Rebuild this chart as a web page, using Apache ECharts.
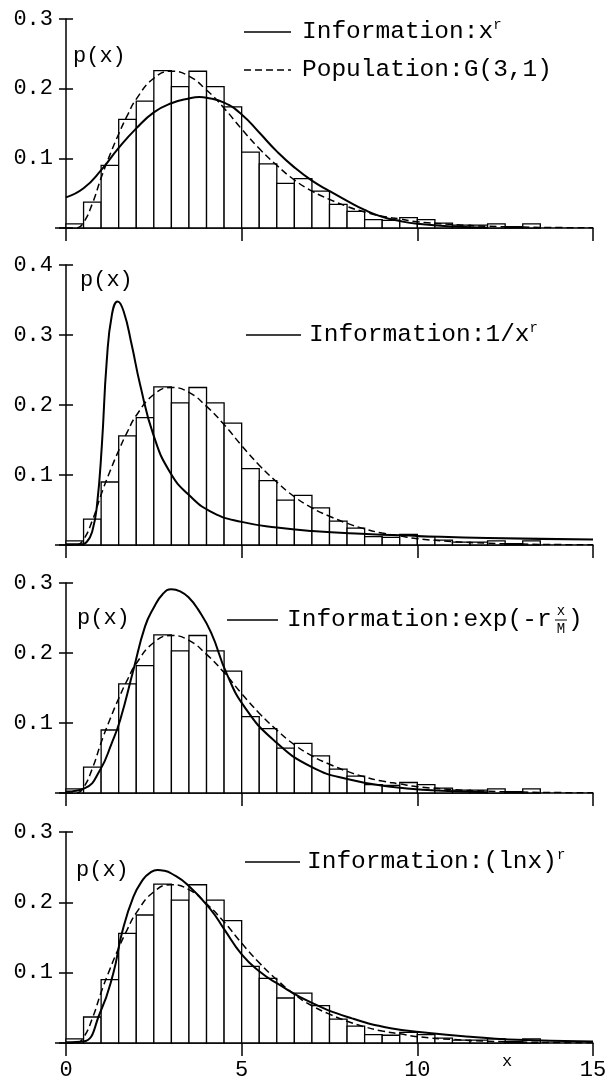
<!DOCTYPE html>
<html>
<head>
<meta charset="utf-8">
<script src="https://cdn.jsdelivr.net/npm/echarts@6/dist/echarts.min.js"></script>
<style>
html, body { margin: 0; padding: 0; background: #fff; }
#chart { width: 606px; height: 1083px; }
</style>
</head>
<body>
<div id="chart"></div>
<script>
// histogram: lower edge of each bin and its relative frequency
var binLeft = [0, 0.5, 1, 1.5, 2, 2.5, 3, 3.5, 4, 4.5, 5, 5.5, 6, 6.5, 7, 7.5,
               8, 8.5, 9, 9.5, 10, 10.5, 11, 11.5, 12, 12.5, 13, 13.5, 14, 14.5];
var binWidth = 0.5;
var histFreq = [0.006, 0.037, 0.090, 0.156, 0.182, 0.226, 0.203, 0.225, 0.203, 0.174,
                0.109, 0.092, 0.064, 0.071, 0.053, 0.034, 0.024, 0.012, 0.011, 0.015,
                0.012, 0.007, 0.004, 0.004, 0.006, 0.002, 0.006, 0, 0, 0];

// population G(3,1), dashed, same in every panel
var popX = [0, 0.3, 0.5, 0.75, 1, 1.25, 1.5, 1.75, 2, 2.5, 3, 3.5, 4, 4.5, 5, 5.5,
            6, 6.5, 7, 7.5, 8, 8.5, 9, 9.5, 10, 11, 12, 13, 14, 15];
var popY = [0, 0, 0.008, 0.035, 0.072, 0.105, 0.135, 0.162, 0.185, 0.215, 0.225, 0.218,
            0.198, 0.172, 0.142, 0.114, 0.090, 0.069, 0.053, 0.041, 0.031, 0.023, 0.017,
            0.013, 0.009, 0.005, 0.0025, 0.0013, 0.0006, 0.0003];

// information x^r
var info1X = [0, 0.5, 1, 1.5, 2, 2.5, 3, 3.5, 3.8, 4, 4.5, 5, 5.5, 6, 6.5, 7, 7.5,
              8, 8.5, 9, 9.5, 10, 11, 12];
var info1Y = [0.044, 0.057, 0.083, 0.115, 0.143, 0.166, 0.179, 0.186, 0.188, 0.187,
              0.180, 0.163, 0.137, 0.110, 0.087, 0.068, 0.053, 0.039, 0.026, 0.016,
              0.010, 0.006, 0.002, 0.0005];

// information 1/x^r
var info2X = [0, 0.4, 0.6, 0.75, 0.88, 1.02, 1.16, 1.31, 1.47, 1.64, 1.87, 2.11, 2.49,
              2.96, 3.53, 4.19, 5, 6, 7, 8.4, 10, 12, 15];
var info2Y = [0.001, 0.001, 0.005, 0.02, 0.056, 0.142, 0.263, 0.33, 0.348, 0.334, 0.286,
              0.229, 0.157, 0.104, 0.070, 0.046, 0.033, 0.025, 0.020, 0.016, 0.013,
              0.010, 0.008];

// information exp(-r x/M)
var info3X = [0, 0.54, 0.97, 1.3, 1.54, 1.92, 2.25, 2.5, 2.75, 3, 3.25, 3.5, 3.75, 4.13,
              4.57, 5.08, 5.9, 7, 8.1, 9.24, 10.4, 12];
var info3Y = [0.002, 0.007, 0.033, 0.071, 0.104, 0.176, 0.238, 0.265, 0.284, 0.291,
              0.288, 0.279, 0.263, 0.229, 0.171, 0.123, 0.076, 0.037, 0.019, 0.009,
              0.004, 0.001];

// information (ln x)^r
var info4X = [0, 0.49, 0.97, 1.35, 1.59, 1.92, 2.2, 2.39, 2.6, 2.79, 3, 3.46, 4.13, 4.5,
              5, 5.5, 6, 7, 8.14, 9.24, 10.4, 11.5, 12.6, 15];
var info4Y = [0.001, 0.002, 0.043, 0.100, 0.156, 0.208, 0.233, 0.242, 0.246, 0.245,
              0.241, 0.225, 0.189, 0.162, 0.126, 0.102, 0.085, 0.057, 0.035, 0.021,
              0.014, 0.009, 0.005, 0.002];

var yMax = [0.3, 0.4, 0.3, 0.3];

var FONT = 'Liberation Mono';
var panels = [
    {top: 19, height: 209},
    {top: 265, height: 280},
    {top: 583, height: 210},
    {top: 832, height: 211}
];

function pairs(xs, ys) {
    var out = [];
    for (var i = 0; i < xs.length; i++) out.push([xs[i], ys[i]]);
    return out;
}
var histData = [];
for (var i = 0; i < binLeft.length; i++) {
    if (histFreq[i] > 0) histData.push([binLeft[i], binLeft[i] + binWidth, histFreq[i]]);
}
function renderBar(params, api) {
    var p0 = api.coord([api.value(0), api.value(2)]);
    var p1 = api.coord([api.value(1), 0]);
    return {
        type: 'rect',
        shape: {x: p0[0], y: p0[1], width: p1[0] - p0[0], height: p1[1] - p0[1]},
        style: {fill: '#fff', stroke: '#000', lineWidth: 1.3}
    };
}

var infos = [pairs(info1X, info1Y), pairs(info2X, info2Y), pairs(info3X, info3Y), pairs(info4X, info4Y)];
var popData = pairs(popX, popY);

var grid = [], xAxis = [], yAxis = [], series = [];
for (var k = 0; k < 4; k++) {
    grid.push({left: 66, width: 527, top: panels[k].top, height: panels[k].height,
               containLabel: false, outerBoundsMode: 'none'});
    xAxis.push({
        gridIndex: k, type: 'value', min: 0, max: 15, interval: 5,
        axisLine: {lineStyle: {color: '#000', width: 1.5}},
        axisTick: {length: 13, lineStyle: {color: '#000', width: 1.5}},
        axisLabel: {show: k === 3, margin: 16, color: '#000', fontFamily: FONT, fontSize: 22},
        splitLine: {show: false}
    });
    // outer ticks + labels
    yAxis.push({
        gridIndex: k, type: 'value', min: 0, max: yMax[k], interval: 0.1,
        axisLine: {show: true, onZero: false, lineStyle: {color: '#000', width: 1.5}},
        axisTick: {length: 7, lineStyle: {color: '#000', width: 1.5}},
        axisLabel: {margin: 13, color: '#000', fontFamily: FONT, fontSize: 22,
                    formatter: function (v) { return v === 0 ? '' : v.toFixed(1); }},
        splitLine: {show: false}
    });
    // inner ticks so they cross the axis
    yAxis.push({
        gridIndex: k, type: 'value', min: 0, max: yMax[k], interval: 0.1, position: 'left',
        axisLine: {show: false},
        axisTick: {inside: true, length: 7, lineStyle: {color: '#000', width: 1.5}},
        axisLabel: {show: false},
        splitLine: {show: false}
    });
    series.push({
        type: 'custom', xAxisIndex: k, yAxisIndex: 2 * k, renderItem: renderBar,
        encode: {x: [0, 1], y: 2}, data: histData, z: 1, silent: true
    });
    series.push({
        type: 'line', xAxisIndex: k, yAxisIndex: 2 * k, data: popData,
        smooth: 0.5, showSymbol: false, z: 3, silent: true,
        lineStyle: {color: '#000', width: 1.5, type: [7, 4]}
    });
    series.push({
        type: 'line', xAxisIndex: k, yAxisIndex: 2 * k, data: infos[k],
        smooth: 0.5, showSymbol: false, z: 4, silent: true,
        lineStyle: {color: '#000', width: 2}
    });
}

var LEG = 24.5;
function legendText(x, y, main, sup) {
    return {
        type: 'text', x: x, y: y, z: 10,
        style: {
            text: '{a|' + main + '}' + (sup ? '{s|' + sup + '}' : ''),
            verticalAlign: 'middle', fill: '#000',
            rich: {
                a: {fontFamily: FONT, fontSize: LEG, lineHeight: 28, fill: '#000'},
                s: {fontFamily: FONT, fontSize: 14, lineHeight: 28, verticalAlign: 'top', fill: '#000'}
            }
        }
    };
}
function legendLine(x1, x2, y, dashed) {
    return {
        type: 'line', z: 10, shape: {x1: x1, y1: y, x2: x2, y2: y},
        style: {stroke: '#000', lineWidth: dashed ? 1.5 : 1.3, lineDash: dashed ? [7, 4] : null}
    };
}
function plain(x, y, txt, size) {
    return {
        type: 'text', x: x, y: y, z: 10,
        style: {text: txt, fontFamily: FONT, fontSize: size, fill: '#000', verticalAlign: 'middle'}
    };
}

var graphic = [
    // panel 1
    legendLine(244, 291, 32, false), legendText(302, 32, 'Information:x', 'r'),
    legendLine(244, 291, 70, true), legendText(302, 70, 'Population:G(3,1)', ''),
    plain(73, 56, 'p(x)', 22),
    // panel 2
    legendLine(246, 301, 335, false), legendText(309, 335, 'Information:1/x', 'r'),
    plain(80, 280, 'p(x)', 22),
    // panel 3
    legendLine(227, 278, 620, false), legendText(287, 620, 'Information:exp(-r', ''),
    {type: 'text', x: 561, y: 611, z: 10, style: {text: 'x', fontFamily: FONT, fontSize: 14, fill: '#000', align: 'center', verticalAlign: 'middle'}},
    {type: 'line', z: 10, shape: {x1: 555, y1: 620, x2: 567, y2: 620}, style: {stroke: '#000', lineWidth: 1}},
    {type: 'text', x: 561, y: 629, z: 10, style: {text: 'M', fontFamily: FONT, fontSize: 14, fill: '#000', align: 'center', verticalAlign: 'middle'}},
    plain(568, 620, ')', LEG),
    plain(77, 618, 'p(x)', 22),
    // panel 4
    legendLine(245, 300, 862, false), legendText(307, 862, 'Information:(lnx)', 'r'),
    plain(76, 870, 'p(x)', 22),
    {type: 'text', x: 507, y: 1061, z: 10, style: {text: 'x', fontFamily: FONT, fontSize: 17, fill: '#000', align: 'center', verticalAlign: 'middle'}},
    // x axes run a little left of x = 0 in the original
    {type: 'line', z: 10, shape: {x1: 55, y1: 228, x2: 66, y2: 228}, style: {stroke: '#000', lineWidth: 1.5}},
    {type: 'line', z: 10, shape: {x1: 55, y1: 545, x2: 66, y2: 545}, style: {stroke: '#000', lineWidth: 1.5}},
    {type: 'line', z: 10, shape: {x1: 55, y1: 793, x2: 66, y2: 793}, style: {stroke: '#000', lineWidth: 1.5}},
    {type: 'line', z: 10, shape: {x1: 55, y1: 1043, x2: 66, y2: 1043}, style: {stroke: '#000', lineWidth: 1.5}}
];

var chart = echarts.init(document.getElementById('chart'), null, {renderer: 'canvas'});
chart.setOption({
    backgroundColor: '#fff',
    animation: false,
    grid: grid,
    xAxis: xAxis,
    yAxis: yAxis,
    series: series,
    graphic: graphic
});
</script>
</body>
</html>
